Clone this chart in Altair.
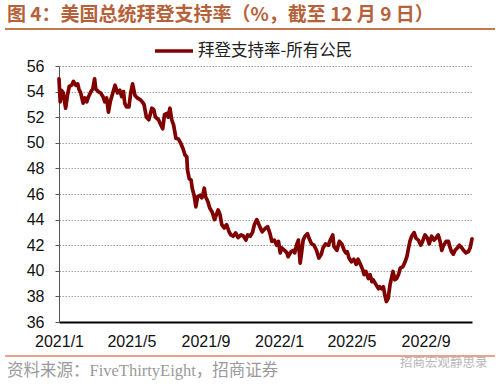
import altair as alt
import pandas as pd

# ---- data (FiveThirtyEight approval, all adults) ----
dates = [
    "2021-01-23", "2021-01-25", "2021-01-27", "2021-01-30", "2021-02-03", "2021-02-06", "2021-02-09",
    "2021-02-13", "2021-02-16", "2021-02-20", "2021-02-23", "2021-02-25", "2021-02-28", "2021-03-04",
    "2021-03-07", "2021-03-10", "2021-03-13", "2021-03-17", "2021-03-20", "2021-03-23", "2021-03-25",
    "2021-03-29", "2021-04-02", "2021-04-06", "2021-04-09", "2021-04-12", "2021-04-15", "2021-04-18",
    "2021-04-21", "2021-04-26", "2021-04-30", "2021-05-04", "2021-05-07", "2021-05-10", "2021-05-12",
    "2021-05-15", "2021-05-19", "2021-05-22", "2021-05-25", "2021-05-29", "2021-06-02", "2021-06-06",
    "2021-06-10", "2021-06-13", "2021-06-17", "2021-06-21", "2021-06-26", "2021-06-29", "2021-07-02",
    "2021-07-07", "2021-07-10", "2021-07-14", "2021-07-17", "2021-07-21", "2021-07-23", "2021-07-26",
    "2021-07-29", "2021-08-01", "2021-08-05", "2021-08-09", "2021-08-13", "2021-08-17", "2021-08-20",
    "2021-08-23", "2021-08-24", "2021-08-27", "2021-08-30", "2021-09-01", "2021-09-04", "2021-09-07",
    "2021-09-10", "2021-09-14", "2021-09-17", "2021-09-19", "2021-09-21", "2021-09-23", "2021-09-27",
    "2021-09-30", "2021-10-04", "2021-10-08", "2021-10-12", "2021-10-14", "2021-10-17", "2021-10-20",
    "2021-10-24", "2021-10-28", "2021-11-01", "2021-11-04", "2021-11-08", "2021-11-12", "2021-11-16",
    "2021-11-21", "2021-11-25", "2021-11-29", "2021-12-02", "2021-12-06", "2021-12-10", "2021-12-13",
    "2021-12-17", "2021-12-22", "2021-12-26", "2021-12-31", "2022-01-04", "2022-01-08", "2022-01-11",
    "2022-01-15", "2022-01-19", "2022-01-22", "2022-01-25", "2022-01-27", "2022-02-01", "2022-02-05",
    "2022-02-07", "2022-02-12", "2022-02-16", "2022-02-18", "2022-02-21", "2022-02-24", "2022-02-27",
    "2022-03-01", "2022-03-04", "2022-03-07", "2022-03-11", "2022-03-15", "2022-03-18", "2022-03-22",
    "2022-03-26", "2022-03-30", "2022-04-03", "2022-04-06", "2022-04-10", "2022-04-15", "2022-04-17",
    "2022-04-22", "2022-04-24", "2022-04-29", "2022-05-03", "2022-05-07", "2022-05-11", "2022-05-14",
    "2022-05-16", "2022-05-19", "2022-05-23", "2022-05-27", "2022-05-31", "2022-06-03", "2022-06-07",
    "2022-06-11", "2022-06-13", "2022-06-16", "2022-06-20", "2022-06-23", "2022-06-26", "2022-06-28",
    "2022-07-03", "2022-07-07", "2022-07-09", "2022-07-12", "2022-07-15", "2022-07-18", "2022-07-20",
    "2022-07-23", "2022-07-26", "2022-07-29", "2022-07-31", "2022-08-03", "2022-08-06", "2022-08-09",
    "2022-08-12", "2022-08-16", "2022-08-20", "2022-08-23", "2022-08-25", "2022-08-28", "2022-08-31",
    "2022-09-04", "2022-09-07", "2022-09-11", "2022-09-15", "2022-09-18", "2022-09-22", "2022-09-26",
    "2022-09-29", "2022-10-03", "2022-10-07", "2022-10-10", "2022-10-14", "2022-10-17", "2022-10-20",
    "2022-10-22", "2022-10-27", "2022-10-31", "2022-11-02", "2022-11-05", "2022-11-08", "2022-11-11",
    "2022-11-15", "2022-11-18", "2022-11-22", "2022-11-25", "2022-11-29", "2022-12-03", "2022-12-06",
    "2022-12-09",
]
approval = [
    55.0, 53.2, 54.1, 53.9, 52.7, 53.7, 54.4,
    54.5, 54.8, 54.5, 54.6, 54.2, 53.9, 53.1,
    53.5, 53.2, 53.6, 54.0, 54.2, 55.0, 54.2,
    54.0, 53.9, 53.6, 53.2, 53.5, 52.4, 53.2,
    53.7, 54.5, 53.9, 54.1, 53.6, 54.0, 53.1,
    52.8, 52.8, 53.9, 54.6, 53.7, 53.5, 53.4,
    53.2, 53.0, 52.0, 51.8, 52.7, 52.6, 52.0,
    51.8, 51.5, 51.1, 52.2, 52.3, 52.0, 52.7,
    51.8, 51.4, 50.35, 50.3, 49.96, 49.5, 49.05,
    48.9, 47.9, 47.2, 47.1, 46.45, 45.9, 45.0,
    45.8, 45.9, 45.7, 46.05, 46.45, 45.8, 45.4,
    44.9, 44.6, 44.0, 44.5, 44.75, 44.4, 43.6,
    43.35, 43.6, 43.05, 42.8, 42.7, 42.96, 42.6,
    42.8, 42.7, 42.4, 42.8, 42.7, 43.0, 43.6,
    44.0, 43.45, 43.05, 43.3, 43.45, 42.9, 42.3,
    42.4, 42.0, 42.3, 41.4, 41.8, 41.6, 41.4,
    41.1, 41.5, 41.6, 41.4, 42.0, 42.4, 40.6,
    41.3, 42.4, 42.7, 42.9, 42.4, 42.1, 42.0,
    41.6, 41.0, 41.3, 41.8, 42.1, 42.0, 42.3,
    42.8, 41.9, 41.6, 42.3, 42.1, 41.6, 41.4,
    41.5, 41.0, 40.7, 40.9, 40.5, 40.9, 40.5,
    40.05, 39.7, 39.95, 39.4, 39.7, 39.15, 39.3,
    38.9, 38.6, 38.75, 38.6, 38.75, 37.98, 37.6,
    37.85, 38.9, 39.55, 39.95, 39.3, 39.4, 39.7,
    40.2, 40.3, 40.7, 41.1, 41.6, 42.3, 42.7,
    42.98, 42.55, 42.4, 42.0, 42.3, 42.8, 42.55,
    42.1, 42.7, 42.4, 42.55, 42.8, 42.3, 41.6,
    41.9, 42.3, 42.3, 41.9, 41.5, 41.3, 41.6,
    41.8, 42.0, 41.8, 41.6, 41.4, 41.5, 41.8,
    42.5,
]
series_name = "拜登支持率-所有公民"
y_ticks = [36, 38, 40, 42, 44, 46, 48, 50, 52, 54, 56]
x_tick_dates = [(2021, 1), (2021, 5), (2021, 9), (2022, 1), (2022, 5), (2022, 9)]
title_text = "图 4：美国总统拜登支持率（%，截至 12 月 9 日）"
source_text = "资料来源：FiveThirtyEight，招商证券"
watermark_text = "招商宏观静思录"

df = pd.DataFrame({"date": dates, "value": approval, "series": series_name})

W, H = 413, 256
FONT = "Liberation Sans, Arial, Noto Sans CJK SC"
CJK = "Noto Sans CJK SC"

x_scale = alt.Scale(
    type="utc",
    domain=[alt.DateTime(year=2021, month=1, date=23, utc=True),
            alt.DateTime(year=2022, month=12, date=9, utc=True)],
)

line = alt.Chart(df).mark_line(strokeWidth=3.7, strokeJoin="round", strokeCap="round").encode(
    x=alt.X(
        "date:T",
        scale=x_scale,
        axis=alt.Axis(
            title=None,
            values=[alt.DateTime(year=y, month=m, date=23, utc=True) for y, m in x_tick_dates],
            labelExpr="utcFormat(datum.value, '%Y/%-m')",
            grid=False,
            ticks=False,
            domainColor="#000000",
            domainWidth=2,
            labelFont=FONT,
            labelFontSize=16,
            labelColor="#111111",
            labelPadding=11,
            labelFlush=False,
            labelOverlap=False,
        ),
    ),
    y=alt.Y(
        "value:Q",
        scale=alt.Scale(domain=[36, 56], nice=False, zero=False),
        axis=alt.Axis(
            title=None,
            values=y_ticks,
            grid=True,
            gridColor="#a0a0a0",
            gridDash=[1.5, 1.5],
            gridWidth=1,
            domainColor="#555555",
            domainWidth=1,
            tickColor="#555555",
            tickSize=4,
            labelFont=FONT,
            labelFontSize=16,
            labelColor="#111111",
            labelPadding=11,
        ),
    ),
    color=alt.Color(
        "series:N",
        scale=alt.Scale(range=["#800000"]),
        legend=alt.Legend(
            title=None,
            orient="none",
            legendX=94,
            legendY=-36,
            symbolType="stroke",
            symbolSize=1444,
            symbolStrokeWidth=3.6,
            labelFont=CJK,
            labelFontSize=16.5,
            labelColor="#222222",
            labelOffset=3,
        ),
    ),
)

txt = pd.DataFrame({"t": [title_text]})
title = alt.Chart(txt).mark_text(
    align="left", baseline="middle", font=CJK, fontSize=19, fontWeight="bold", color="#B5623A"
).encode(text="t:N", x=alt.value(-52), y=alt.value(-51))

src = alt.Chart(pd.DataFrame({"t": [source_text]})).mark_text(
    align="left", baseline="middle", font="Liberation Serif, Noto Sans CJK SC", fontSize=16.5, color="#9a9a9a"
).encode(text="t:N", x=alt.value(-52), y=alt.value(305))

wm = alt.Chart(pd.DataFrame({"t": [watermark_text]})).mark_text(
    align="left", baseline="middle", font=CJK, fontSize=12.5, color="#b8b8b8"
).encode(text="t:N", x=alt.value(341), y=alt.value(297))

rule_df = pd.DataFrame({"k": [0]})
top_rule = alt.Chart(rule_df).mark_rule(color="#C8784E", strokeWidth=2).encode(
    x=alt.value(-54), x2=alt.value(436), y=alt.value(-37)
)
bottom_rule = alt.Chart(rule_df).mark_rule(color="#E58366", strokeWidth=1.5).encode(
    x=alt.value(-54), x2=alt.value(436), y=alt.value(290)
)

chart = alt.layer(line, title, src, wm, top_rule, bottom_rule).properties(
    width=W,
    height=H,
    autosize=alt.AutoSizeParams(type="none"),
    padding={"left": 59, "top": 66, "right": 28, "bottom": 64},
    background="white",
).configure_view(stroke=None)

chart.save("out.html", embed_options={"renderer": "svg", "actions": False})
